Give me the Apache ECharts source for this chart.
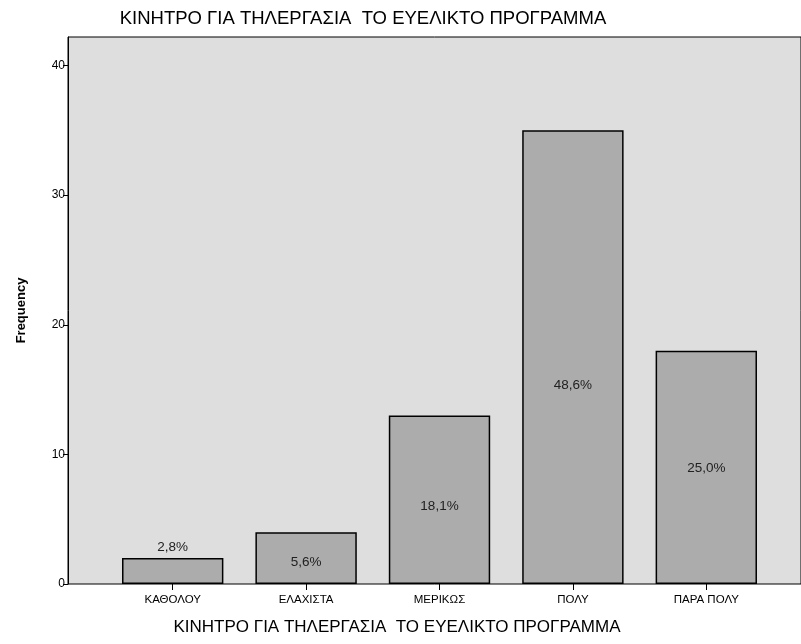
<!DOCTYPE html>
<html><head><meta charset="utf-8">
<script src="https://cdn.jsdelivr.net/npm/echarts@6/dist/echarts.min.js"></script>
<style>html,body{margin:0;padding:0;background:#fff}#c{width:801px;height:644px}</style>
</head><body><div id="c"></div>
<script>
const categories = ['ΚΑΘΟΛΟΥ', 'ΕΛΑΧΙΣΤΑ', 'ΜΕΡΙΚΩΣ', 'ΠΟΛΥ', 'ΠΑΡΑ ΠΟΛΥ'];
const frequencies = [2, 4, 13, 35, 18];
const percentLabels = ['2,8%', '5,6%', '18,1%', '48,6%', '25,0%'];
const yTicks = [0, 10, 20, 30, 40];
const titleText = 'ΚΙΝΗΤΡΟ ΓΙΑ ΤΗΛΕΡΓΑΣΙΑ  ΤΟ ΕΥΕΛΙΚΤΟ ΠΡΟΓΡΑΜΜΑ';
const yName = 'Frequency';

const yMax = 42.2;
const labelOffsets = [[0, 0], [0, 4], [0, 7], [0, 28], [0, 1]];

const chart = echarts.init(document.getElementById('c'), null, {renderer: 'canvas'});
chart.setOption({
  animation: false,
  backgroundColor: '#ffffff',
  graphic: [
    {type: 'text', x: 363, y: 19,
     style: {text: titleText, fill: '#000', font: 'normal 18.5px "Liberation Sans", Arial', align: 'center', verticalAlign: 'middle'}},
    {type: 'text', x: 397, y: 627,
     style: {text: titleText, fill: '#000', font: 'normal 17px "Liberation Sans", Arial', align: 'center', verticalAlign: 'middle'}}
  ],
  grid: [
    {left: 68, right: -10, top: 37, bottom: 60, show: true, backgroundColor: '#dedede', borderColor: '#000', borderWidth: 1},
    {left: 106, right: 28, top: 37, bottom: 60}
  ],
  xAxis: [
    {gridIndex: 0, type: 'value', min: 0, max: 1, show: false},
    {gridIndex: 1, type: 'category', data: categories,
     axisLine: {show: false},
     axisTick: {show: true, alignWithLabel: true, length: 6, lineStyle: {color: '#000'}},
     axisLabel: {color: '#000', fontFamily: 'Liberation Sans, Arial', fontSize: 11.5, margin: 10}}
  ],
  yAxis: [
    {gridIndex: 0, type: 'value', min: 0, max: yMax, interval: 10,
     axisLine: {show: true, lineStyle: {color: '#000', width: 1}},
     axisTick: {show: true, length: 5, lineStyle: {color: '#000'}, customValues: yTicks},
     axisLabel: {color: '#000', fontFamily: 'Liberation Sans, Arial', fontSize: 12, margin: 3, customValues: yTicks},
     splitLine: {show: false},
     name: yName, nameLocation: 'middle', nameGap: 40, nameRotate: 90,
     nameTextStyle: {fontFamily: 'Liberation Sans, Arial', fontSize: 13, fontWeight: 'bold', color: '#000'}},
    {gridIndex: 1, type: 'value', min: 0, max: yMax, show: false, splitLine: {show: false}}
  ],
  series: [{
    type: 'bar', xAxisIndex: 1, yAxisIndex: 1,
    barCategoryGap: '24%',
    data: frequencies.map((v, i) => ({
      value: v,
      label: {
        position: v < 3 ? 'top' : 'inside',
        offset: labelOffsets[i],
        formatter: () => percentLabels[i]
      }
    })),
    itemStyle: {color: '#acacac', borderColor: '#000', borderWidth: 1.5},
    label: {show: true, color: '#222', fontFamily: 'Liberation Sans, Arial', fontSize: 13.5, distance: 4}
  }]
});
</script></body></html>
